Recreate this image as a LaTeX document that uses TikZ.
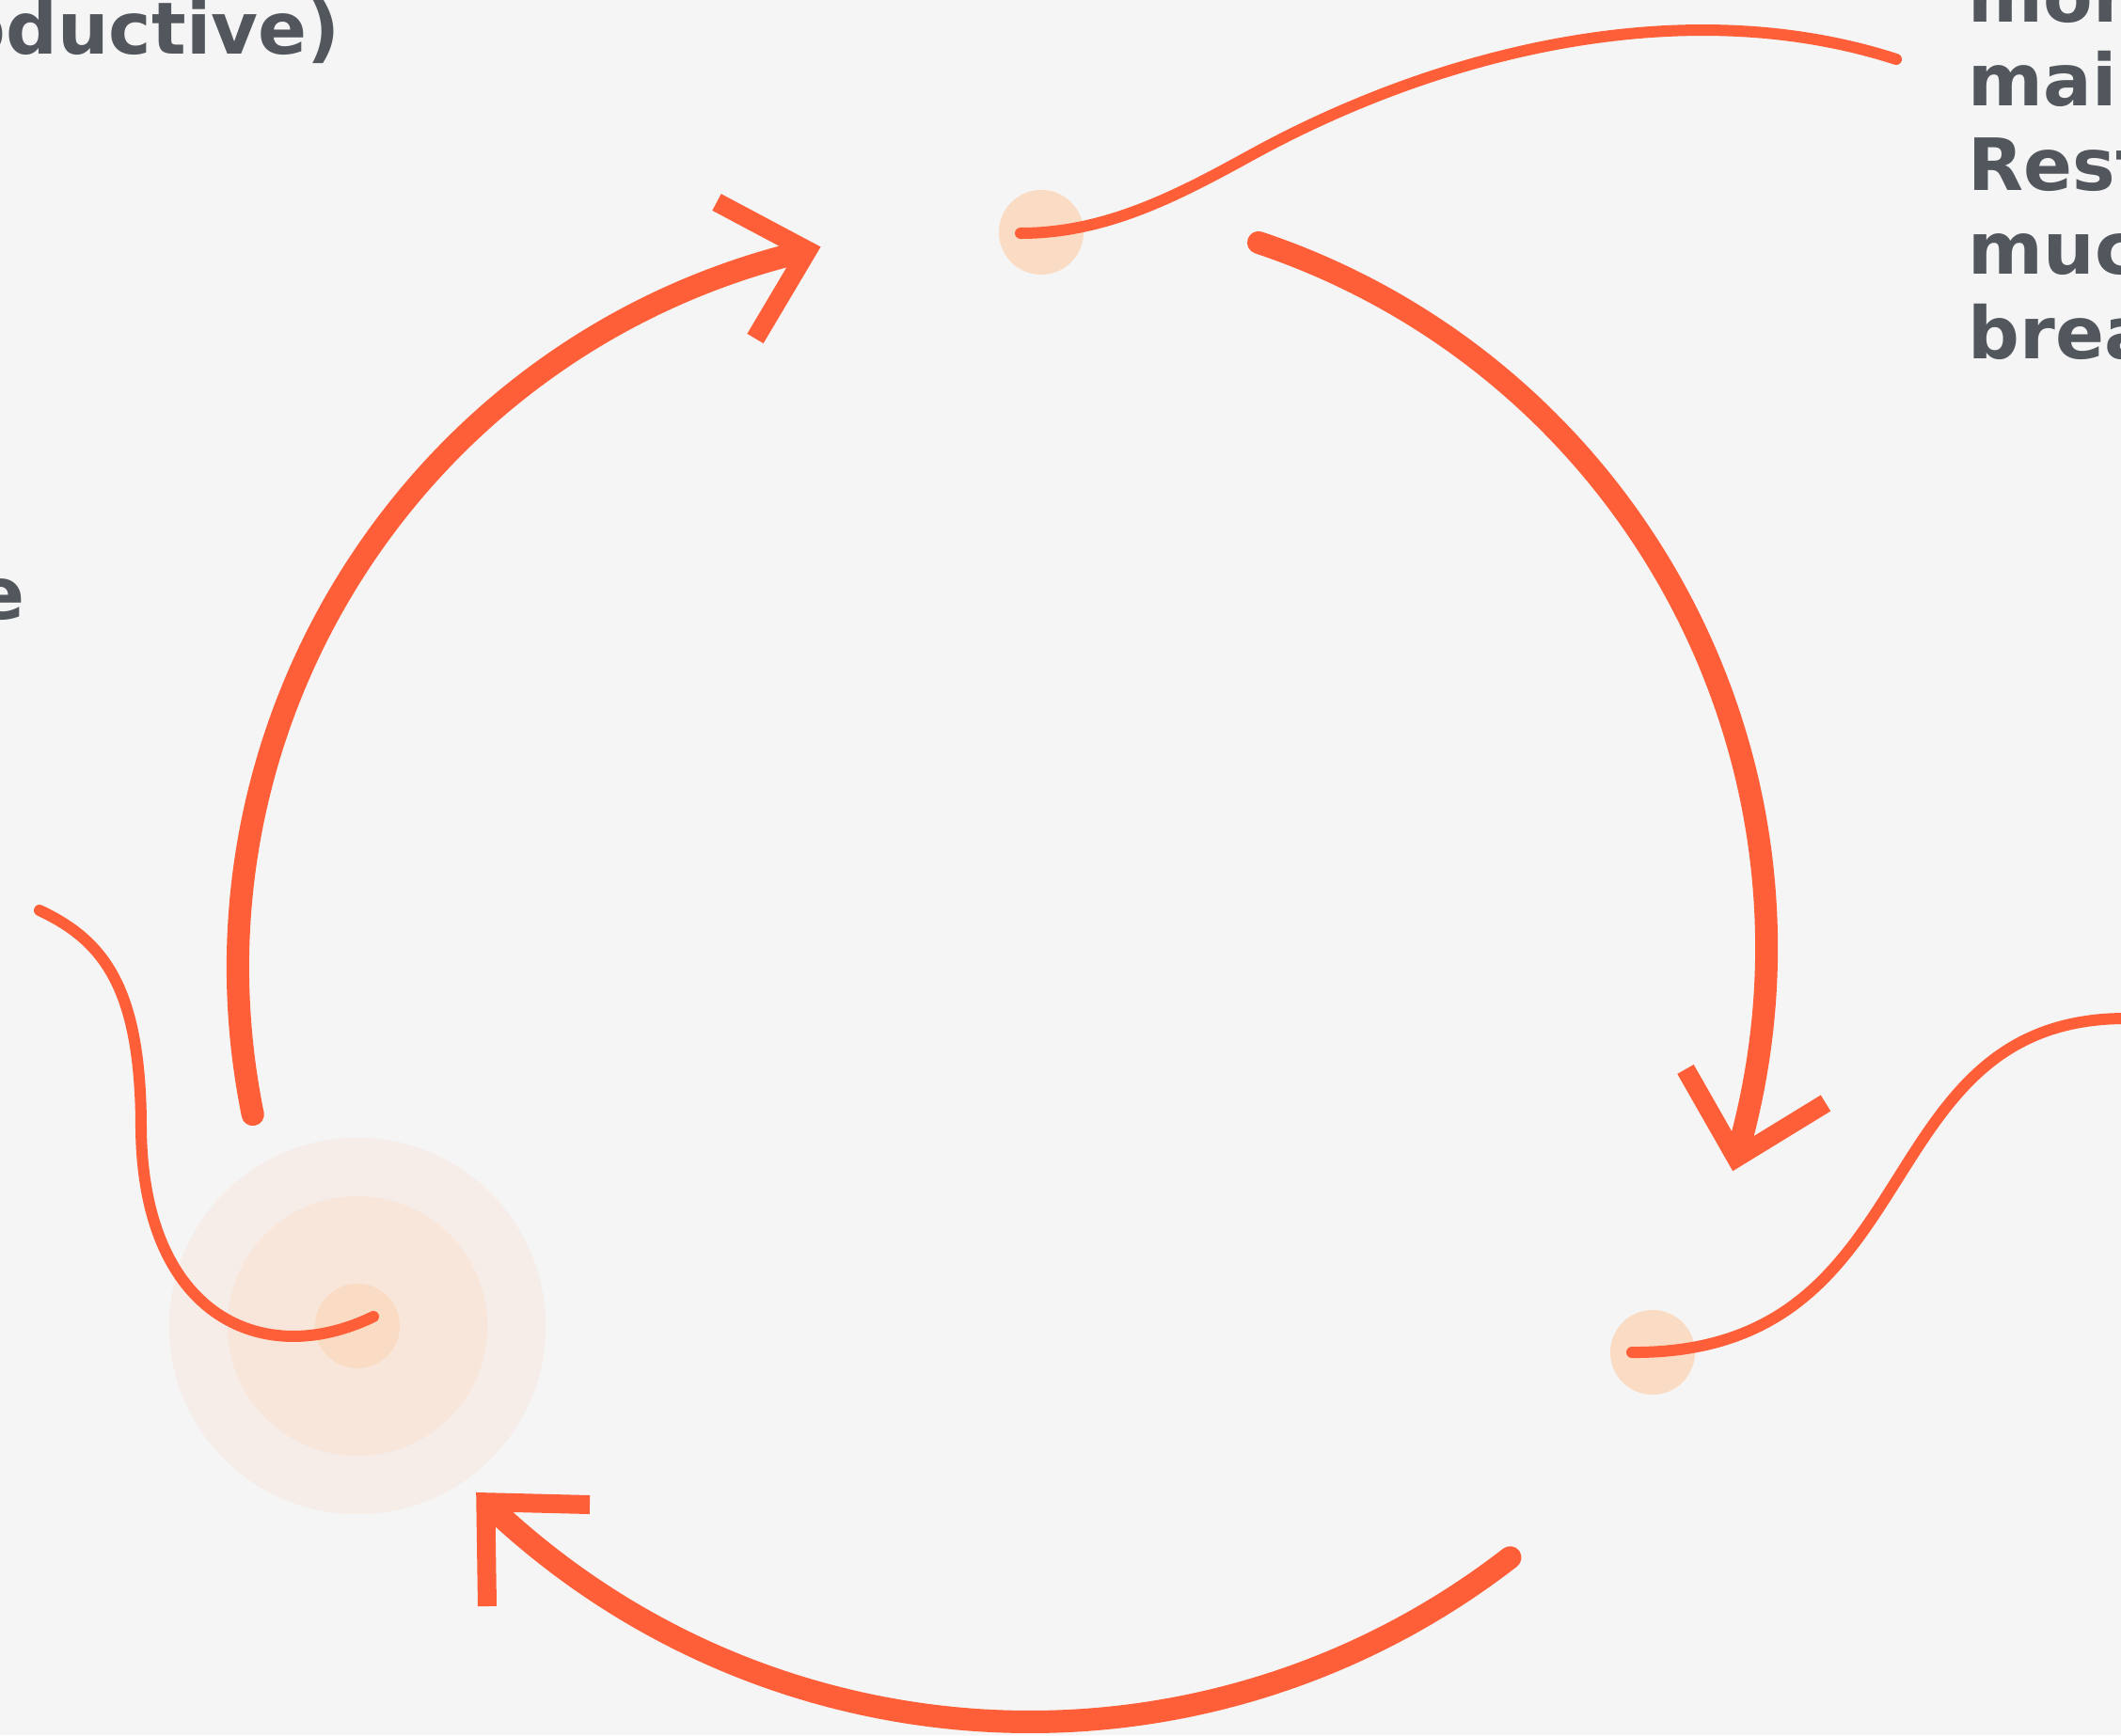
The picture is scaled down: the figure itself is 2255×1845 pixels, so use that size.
\documentclass[tikz,border=0pt]{standalone}
\usepackage{fontspec}
\setmainfont{DejaVuSans}[Extension=.ttf, BoldFont=DejaVuSans-Bold]
\usetikzlibrary{calc}
\definecolor{CycleOrange}{HTML}{FF5F38}
\definecolor{CycleDot}{HTML}{FADBC4}
\definecolor{CycleHaloOut}{HTML}{F6ECE8}
\definecolor{CycleHaloIn}{HTML}{F8E6DB}
\definecolor{CycleInk}{HTML}{52575E}
\definecolor{CyclePaper}{HTML}{F5F5F5}

\begin{document}
\begin{tikzpicture}[x=0.01cm, y=-0.01cm]
      \tikzset{
        dot/.style={circle, fill=CycleDot, minimum size=0.9cm, inner sep=0pt},
        haloout/.style={circle, fill=CycleHaloOut, minimum size=4cm, inner sep=0pt},
        haloin/.style={circle, fill=CycleHaloIn, minimum size=2.76cm, inner sep=0pt},
        bigarc/.style={line width=0.24cm, color=CycleOrange, line cap=round},
        tipline/.style={line width=0.2cm, color=CycleOrange, line join=miter},
        wire/.style={line width=0.12cm, color=CycleOrange, line cap=round},
        note/.style={font=\fontsize{21.8}{25.5}\selectfont\bfseries, text=CycleInk, inner sep=0pt}
      }
      \fill[CyclePaper] (0,0) rectangle (2255,1845);
      \useasboundingbox (0,0) rectangle (2255,1845);
      \clip (0,0) rectangle (2255,1845);

      % Nodes
      \node[haloout] (haloout) at (380,1410) {};
      \node[haloin] (haloin) at (haloout) {};
      \node[dot] (dleft) at (haloout) {};
      \node[dot] (dtop) at (1107,247) {};
      \node[dot] (dright) at (1757,1438) {};

      \node[note, anchor=base east] (tprod) at (362,57) {oductive)};
      \node[note, anchor=base east] (tleft) at (27,658) {e};
      \foreach \w [count=\i from 0] in {more,main,Rest,much,break}
        \node[note, anchor=base west] (tright\i) at (2092,{23+89.5*\i}) {\w};

      % Cycle arrows (centres of the three arcs)
      \coordinate (cA) at (1036,1029);
      \coordinate (cB) at (1087,1008);
      \coordinate (cC) at (1095,998);
      \coordinate (arcAtip) at ([shift={(-103.1:783)}]cA);
      \coordinate (arcBtip) at ([shift={(16.4:791)}]cB);
      \coordinate (arcCtip) at ([shift={(134:833)}]cC);

      \draw[bigarc] ([shift={(-191.5:783)}]cA) arc[start angle=-191.5, end angle=-104.2, radius=783];
      \draw[tipline] (762,215) -- (arcAtip) -- (803,360);
      \draw[bigarc] ([shift={(-71.5:791)}]cB) arc[start angle=-71.5, end angle=15.3, radius=791];
      \draw[tipline] (1792,1137) -- (arcBtip) -- (1941,1173);
      \draw[bigarc] ([shift={(52.2:833)}]cC) arc[start angle=52.2, end angle=133, radius=833];
      \draw[tipline] (627,1600) -- (arcCtip) -- (518,1708);

      % Leaders
      \coordinate (wtopend) at (2016,63);
      \coordinate (wrightend) at (2260,1083);
      \coordinate (wleftend) at (42,968);
      \draw[wire] ($(dtop.center)+(-22,1)$) .. controls (1175,248) and (1250,209) .. (1330,165)
        .. controls (1530,55) and (1790,-10) .. (wtopend);
      \draw[wire] ($(dright.center)+(-22,0)$) .. controls (2055,1440) and (1980,1083) .. (wrightend);
      \draw[wire] (wleftend) .. controls (110,1000) and (150,1050) .. (150,1200)
        .. controls (152,1400) and (280,1457) .. ($(dleft.center)+(17,-10)$);

    \end{tikzpicture}
\end{document}
